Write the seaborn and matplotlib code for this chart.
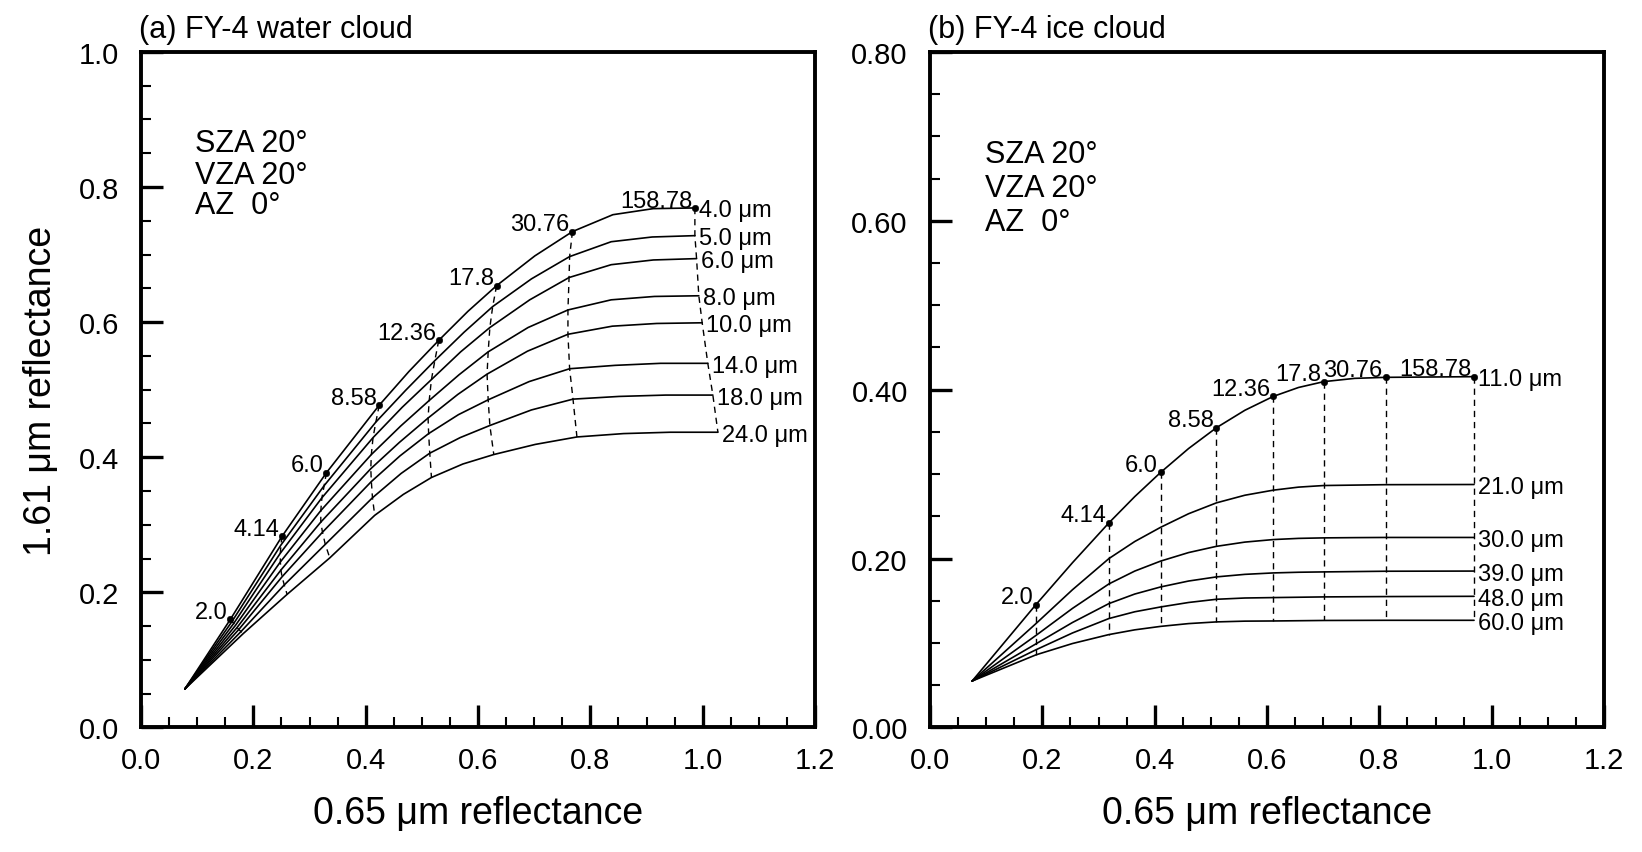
import pandas as pd
import seaborn as sns
import matplotlib.pyplot as plt
from matplotlib.ticker import MultipleLocator, FormatStrFormatter

# optical depth nodes of the look-up table (0 = common start; only tau_marked are labelled)
tau_labels = ["2.0", "4.14", "6.0", "8.58", "12.36", "17.8", "30.76", "158.78"]
tau_marked = [2.0, 4.14, 6.0, 8.58, 12.36, 17.8, 30.76, 158.78]

# (a) water cloud: effective radius -> 0.65 / 1.61 um reflectance along water_tau
water_tau = [0.0, 2.0, 4.14, 6.0, 8.58, 10.3, 12.36, 14.8, 17.8, 23.4, 30.76, 55.0, 90.0, 158.78]
water_radius = ["4.0", "5.0", "6.0", "8.0", "10.0", "14.0", "18.0", "24.0"]
water_x = {
    "4.0": [0.078, 0.159, 0.251, 0.330, 0.424, 0.477, 0.530, 0.582, 0.633, 0.701, 0.768, 0.840, 0.912, 0.986],
    "5.0": [0.078, 0.162, 0.249, 0.326, 0.418, 0.471, 0.523, 0.575, 0.626, 0.695, 0.763, 0.837, 0.910, 0.986],
    "6.0": [0.078, 0.165, 0.248, 0.322, 0.413, 0.465, 0.517, 0.569, 0.621, 0.692, 0.762, 0.837, 0.912, 0.989],
    "8.0": [0.078, 0.168, 0.248, 0.320, 0.410, 0.462, 0.513, 0.566, 0.618, 0.689, 0.760, 0.837, 0.914, 0.993],
    "10.0": [0.078, 0.171, 0.249, 0.320, 0.409, 0.460, 0.511, 0.564, 0.616, 0.688, 0.760, 0.839, 0.918, 0.999],
    "14.0": [0.078, 0.174, 0.251, 0.323, 0.410, 0.461, 0.512, 0.565, 0.618, 0.691, 0.763, 0.844, 0.925, 1.009],
    "18.0": [0.078, 0.178, 0.255, 0.328, 0.412, 0.463, 0.514, 0.568, 0.621, 0.695, 0.769, 0.851, 0.934, 1.018],
    "24.0": [0.078, 0.182, 0.260, 0.336, 0.416, 0.467, 0.517, 0.573, 0.628, 0.702, 0.776, 0.859, 0.942, 1.027],
}
water_y = {
    "4.0": [0.057, 0.160, 0.283, 0.377, 0.477, 0.527, 0.573, 0.616, 0.654, 0.698, 0.734, 0.759, 0.768, 0.769],
    "5.0": [0.057, 0.157, 0.270, 0.358, 0.452, 0.499, 0.543, 0.585, 0.623, 0.664, 0.697, 0.719, 0.726, 0.728],
    "6.0": [0.057, 0.154, 0.258, 0.340, 0.429, 0.474, 0.515, 0.556, 0.592, 0.633, 0.666, 0.685, 0.692, 0.694],
    "8.0": [0.057, 0.151, 0.245, 0.321, 0.404, 0.446, 0.484, 0.522, 0.556, 0.592, 0.618, 0.633, 0.638, 0.639],
    "10.0": [0.057, 0.148, 0.233, 0.304, 0.383, 0.422, 0.458, 0.493, 0.523, 0.557, 0.582, 0.594, 0.598, 0.599],
    "14.0": [0.057, 0.145, 0.223, 0.289, 0.364, 0.402, 0.435, 0.463, 0.485, 0.512, 0.531, 0.536, 0.539, 0.539],
    "18.0": [0.057, 0.142, 0.211, 0.271, 0.340, 0.376, 0.406, 0.429, 0.447, 0.470, 0.486, 0.490, 0.492, 0.492],
    "24.0": [0.057, 0.139, 0.197, 0.251, 0.314, 0.345, 0.370, 0.390, 0.404, 0.419, 0.430, 0.435, 0.437, 0.437],
}

# (b) ice cloud: constant-tau lines are vertical, so one x list
ice_tau = [0.0, 2.0, 3.0, 4.14, 5.0, 6.0, 7.2, 8.58, 10.3, 12.36, 14.8, 17.8, 23.4, 30.76, 158.78]
ice_radius = ["11.0", "21.0", "30.0", "39.0", "48.0", "60.0"]
ice_x = [0.075, 0.1886, 0.2536, 0.3185, 0.3645, 0.4105, 0.4603, 0.510, 0.5605, 0.611, 0.656, 0.701,
         0.756, 0.811, 0.9685]
ice_y = {
    "11.0": [0.055, 0.1455, 0.1951, 0.2423, 0.2734, 0.302, 0.3303, 0.355, 0.3756, 0.392, 0.4026, 0.4095,
             0.4134, 0.4146, 0.4154],
    "21.0": [0.055, 0.123, 0.1631, 0.200, 0.2202, 0.237, 0.2531, 0.266, 0.275, 0.281, 0.2846, 0.2865,
             0.2870, 0.2875, 0.2877],
    "30.0": [0.055, 0.109, 0.141, 0.170, 0.1852, 0.197, 0.2071, 0.2145, 0.2195, 0.2225, 0.2239, 0.2245,
             0.2248, 0.2250, 0.2250],
    "39.0": [0.055, 0.099, 0.1243, 0.1467, 0.158, 0.1664, 0.1734, 0.1783, 0.1813, 0.1830, 0.1838, 0.1842,
             0.1846, 0.1850, 0.1852],
    "48.0": [0.055, 0.092, 0.1119, 0.129, 0.137, 0.1427, 0.148, 0.1518, 0.1533, 0.1538, 0.1542, 0.1546,
             0.1548, 0.1550, 0.1553],
    "60.0": [0.055, 0.086, 0.0994, 0.110, 0.1156, 0.1197, 0.123, 0.125, 0.1259, 0.1261, 0.1264, 0.1267,
             0.1268, 0.1269, 0.1269],
}

rows = []
for r in water_radius:
    for t, x, y in zip(water_tau, water_x[r], water_y[r]):
        rows.append(("water", r, t, x, y))
for r in ice_radius:
    for t, x, y in zip(ice_tau, ice_x, ice_y[r]):
        rows.append(("ice", r, t, x, y))
df = pd.DataFrame(rows, columns=["phase", "radius", "tau", "r065", "r161"])

sns.set_style("ticks")
plt.rcParams["font.family"] = ["Liberation Sans", "DejaVu Sans"]
for k in ["text.color", "axes.labelcolor", "xtick.color", "ytick.color", "axes.edgecolor"]:
    plt.rcParams[k] = "black"

fig = plt.figure(figsize=(16.42, 8.53), dpi=100)
ax1 = fig.add_axes([0.0859, 0.146, 0.4105, 0.792])
ax2 = fig.add_axes([0.5664, 0.146, 0.4105, 0.792])

dash = (0, (4.5, 3.5))
panels = [
    (ax1, "water", water_radius, "(a) FY-4 water cloud", (0, 1.0), "%.1f", (0.080, [0.853, 0.806, 0.762])),
    (ax2, "ice", ice_radius, "(b) FY-4 ice cloud", (0, 0.8), "%.2f", (0.082, [0.837, 0.787, 0.737])),
]

for ax, phase, radii, title, ylim, yfmt, (tx, ty) in panels:
    d = df[df.phase == phase]
    sns.lineplot(data=d, x="r065", y="r161", units="radius", estimator=None,
                 sort=False, color="black", lw=1.2, ax=ax)
    dl = d[d.tau.isin(tau_marked)]
    sns.lineplot(data=dl, x="r065", y="r161", units="tau", estimator=None,
                 sort=False, color="black", lw=1.0, linestyle=dash, ax=ax)
    top = dl[dl.radius == radii[0]]
    sns.scatterplot(data=top, x="r065", y="r161", color="black", s=22,
                    edgecolor=None, ax=ax, zorder=5)

    for lab, (_, row) in zip(tau_labels, top.iterrows()):
        ax.annotate(lab, (row.r065, row.r161), xytext=(-2, 1), textcoords="offset points",
                    ha="right", va="baseline", fontsize=17)
    for r in radii:
        end = d[d.radius == r].iloc[-1]
        ax.annotate(f"{r} μm", (end.r065, end.r161), xytext=(3, 0), textcoords="offset points",
                    ha="left", va="center_baseline", fontsize=17)

    for line, yy in zip(["SZA 20°", "VZA 20°", "AZ  0°"], ty):
        ax.text(tx, yy, line, transform=ax.transAxes, fontsize=22, va="baseline")
    ax.text(-0.003, 1.012, title, transform=ax.transAxes, fontsize=22, va="bottom", ha="left")

    ax.set_xlim(0, 1.2)
    ax.set_ylim(*ylim)
    ax.xaxis.set_major_locator(MultipleLocator(0.2))
    ax.xaxis.set_minor_locator(MultipleLocator(0.05))
    ax.yaxis.set_major_locator(MultipleLocator(0.2))
    ax.yaxis.set_minor_locator(MultipleLocator(0.05))
    ax.xaxis.set_major_formatter(FormatStrFormatter("%.1f"))
    ax.yaxis.set_major_formatter(FormatStrFormatter(yfmt))
    ax.tick_params(which="major", direction="in", length=16, width=2.4, labelsize=21)
    ax.tick_params(axis="x", which="major", pad=13)
    ax.tick_params(axis="y", which="major", pad=16)
    ax.tick_params(which="minor", direction="in", length=7.5, width=1.5)
    for s in ax.spines.values():
        s.set_linewidth(2.8)
        s.set_visible(True)
    ax.set_xlabel("0.65 μm reflectance", fontsize=27)
    ax.xaxis.set_label_coords(0.5, -0.10)
    ax.set_ylabel("")

ax1.set_ylabel("1.61 μm reflectance", fontsize=27)
ax1.yaxis.set_label_coords(-0.122, 0.5)

fig.savefig("out.png", dpi=100, facecolor="white")
